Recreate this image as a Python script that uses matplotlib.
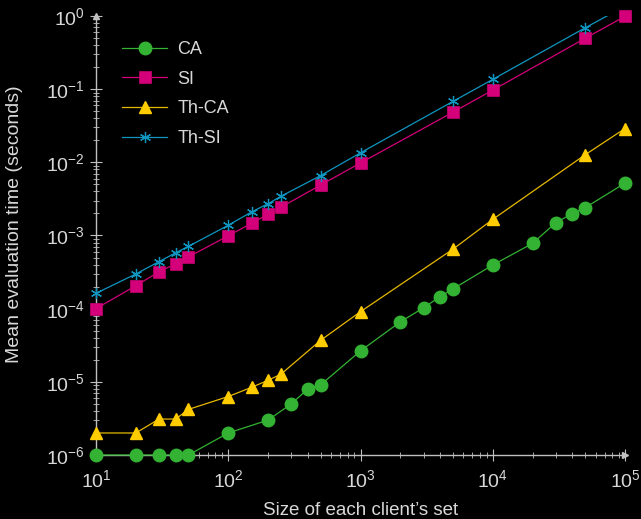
import matplotlib
matplotlib.use("Agg")
import matplotlib.pyplot as plt
from matplotlib.ticker import LogLocator, NullFormatter
from matplotlib.patches import Rectangle

plt.rcParams['font.family'] = ['Liberation Sans', 'DejaVu Sans']
plt.rcParams['mathtext.fontset'] = 'custom'
plt.rcParams['mathtext.rm'] = 'Liberation Sans'
plt.rcParams['mathtext.it'] = 'Liberation Sans:italic'

# Data
x_ca = [10, 20, 30, 40, 50, 100, 200, 300, 400, 500, 1000, 2000, 3000, 4000, 5000,
        10000, 20000, 30000, 40000, 50000, 100000]
y_ca = [1e-6, 1e-6, 1e-6, 1e-6, 1e-6, 2e-6, 3e-6, 5e-6, 8e-6, 9.1e-6, 2.65e-5, 6.6e-5,
        1.03e-4, 1.46e-4, 1.86e-4, 3.95e-4, 7.8e-4, 1.5e-3, 1.99e-3, 2.4e-3, 5.2e-3]

x_s = [10, 20, 30, 40, 50, 100, 150, 200, 250, 500, 1000, 5000, 10000, 50000, 100000]
y_si = [1e-4, 2.06e-4, 3.2e-4, 4.1e-4, 5.1e-4, 9.9e-4, 1.47e-3, 1.95e-3, 2.43e-3,
        4.9e-3, 9.8e-3, 4.85e-2, 9.7e-2, 0.496, 0.99]
y_thca = [2e-6, 2e-6, 3.1e-6, 3.1e-6, 4.2e-6, 6.3e-6, 8.4e-6, 1.05e-5, 1.27e-5,
          3.7e-5, 9.1e-5, 6.5e-4, 1.66e-3, 1.27e-2, 2.9e-2]
y_thsi = [1.62e-4, 2.98e-4, 4.4e-4, 5.8e-4, 7.1e-4, 1.38e-3, 2.1e-3, 2.72e-3, 3.43e-3,
          6.6e-3, 1.35e-2, 6.8e-2, 0.136, 0.69, 1.36]

labels = ["CA", "SI", "Th-CA", "Th-SI"]
c_ca = "#33b233"
c_si = "#d4007a"
c_thca = "#ffcc00"
c_thsi = "#0f96c0"
fg = "#d8d8d8"
axc = "#c0c0c0"

fig = plt.figure(figsize=(6.41, 5.19), dpi=100, facecolor="black")
ax = fig.add_axes([96/641, 1-455/519, (625-96)/641, (455-16)/519])
ax.set_facecolor("black")

l1, = ax.plot(x_ca, y_ca, color=c_ca, lw=0.9, marker="o", ms=9, mec=c_ca, label=labels[0],
              clip_on=False, zorder=3)
l2, = ax.plot(x_s, y_si, color=c_si, lw=0.9, marker="s", ms=8.5, mec="#b8006a", mew=0.6,
              label=labels[1], clip_on=False, zorder=3)
l3, = ax.plot(x_s, y_thca, color="#e6b800", lw=0.9, marker="^", ms=9, mfc=c_thca, mec=c_thca,
              label=labels[2], clip_on=False, zorder=3)
l4, = ax.plot(x_s, y_thsi, color=c_thsi, lw=0.9, marker=(6, 2, 0), ms=8, mew=0.9, mec=c_thsi,
              label=labels[3], zorder=3)
clip = Rectangle((-0.05, -0.05), 1.1, 1.05, transform=ax.transAxes, facecolor="none",
                 edgecolor="none")
l4.set_clip_path(clip)

ax.set_xscale("log")
ax.set_yscale("log")
ax.set_xlim(10, 1e5)
ax.set_ylim(1e-6, 1)

for s in ["top", "right"]:
    ax.spines[s].set_visible(False)
for s in ["left", "bottom"]:
    ax.spines[s].set_color(axc)
    ax.spines[s].set_linewidth(1.0)

ax.xaxis.set_major_locator(LogLocator(base=10, numticks=10))
ax.yaxis.set_major_locator(LogLocator(base=10, numticks=10))
ax.xaxis.set_minor_locator(LogLocator(base=10, subs=range(2, 10), numticks=20))
ax.yaxis.set_minor_locator(LogLocator(base=10, subs=range(2, 10), numticks=20))
ax.xaxis.set_minor_formatter(NullFormatter())
ax.yaxis.set_minor_formatter(NullFormatter())

ax.tick_params(which="major", direction="inout", length=8, width=0.8, color=axc,
               labelcolor=fg, labelsize=14, pad=4)
ax.tick_params(which="minor", direction="inout", length=5, width=0.6, color=axc)
ax.tick_params(axis="x", which="major", pad=6)

# arrows
ax.plot(1, 0, marker=">", ms=5, color=axc, transform=ax.transAxes, clip_on=False)
ax.plot(0, 1, marker="^", ms=5, color=axc, transform=ax.transAxes, clip_on=False)

ax.set_xlabel("Size of each client\u2019s set", color=fg, fontsize=13.5, labelpad=8)
ax.set_ylabel("Mean evaluation time (seconds)", color=fg, fontsize=14)
ax.yaxis.set_label_coords(-0.138, 0.526)

leg = ax.legend(loc="upper left", bbox_to_anchor=(0.019, 0.98), frameon=False,
                fontsize=13, labelcolor=fg, handlelength=2.5, labelspacing=0.7,
                handletextpad=0.55)

fig.savefig("out.png", dpi=100, facecolor="black")
